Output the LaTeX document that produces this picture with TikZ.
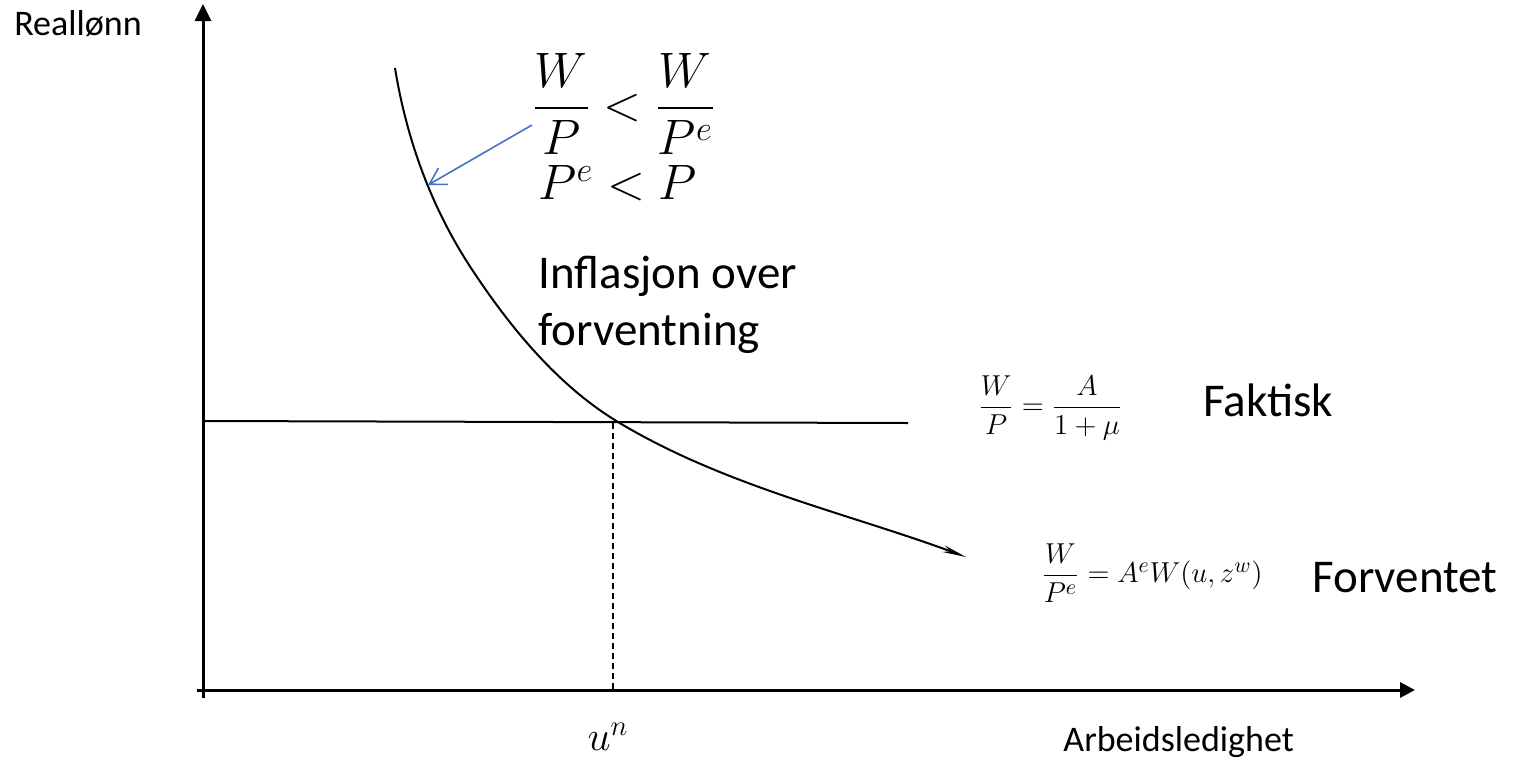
\documentclass[tikz,border=0pt]{standalone}
\usepackage{amsmath}
\usepackage{fontspec}
\setmainfont{Carlito}
\usetikzlibrary{arrows.meta}
\definecolor{arrowblue}{HTML}{4472C4}
\begin{document}
\begin{tikzpicture}[x=0.5pt,y=-0.5pt,
  axis/.style={line width=1.5pt},
  curve/.style={line width=1pt},
  small/.style={font=\fontsize{18}{22}\selectfont, inner sep=0pt},
  big/.style={font=\fontsize{23.5}{28.5}\selectfont, inner sep=0pt, align=left},
  fmath/.style={font=\fontsize{15.5}{18}\selectfont, inner sep=0pt}]
\useasboundingbox (0,0) rectangle (1529,760);
% axes
\coordinate (ybot) at (203,698);
\coordinate (ytop) at (203,4);
\coordinate (xstart) at (197,690);
\coordinate (xend) at (1415,690);
\draw[axis, -{Triangle[length=8.5pt,width=8pt]}] (ybot) -- (ytop);
\draw[axis, -{Triangle[length=7.5pt,width=7.5pt]}] (xstart) -- (xend);
% horizontal line
\coordinate (h1) at (203,421);
\coordinate (h2) at (908,423);
\draw[curve] (h1) -- (h2);
% dashed
\coordinate (e) at (613,423);
\coordinate (eb) at (613,690);
\draw[curve, dash pattern=on 3pt off 2pt] (e) -- (eb);
% curve
\coordinate (c0) at (395,68);
\coordinate (c1) at (475,274);
\coordinate (c2) at (618,422);
\coordinate (c3) at (966,557);
\draw[curve, -{Stealth[length=12pt,width=3.5pt]}]
  (c0) .. controls (407,142) and (433,212) .. (c1)
       .. controls (513,331) and (560,387) .. (c2)
       .. controls (724,486) and (850,514) .. (c3);
% blue arrow
\coordinate (bs) at (532,125);
\coordinate (bt) at (428,185);
\draw[arrowblue, line width=0.8pt, -{Straight Barb[length=8pt,width=9.5pt]}] (bs) -- (bt);
% labels
\node[small] (ylab) at (78,24) {Reallønn};
\node[small, anchor=west] (xlab) at (1063,742) {Arbeidsledighet};
\node[font=\fontsize{20}{24}\selectfont, inner sep=0pt] (un) at (608,737) {$u^n$};
\node[big, anchor=west] (ineq) at (532,104) {$\dfrac{W}{P}<\dfrac{W}{P^e}$};
\node[big, anchor=west] (pe) at (538,183) {$P^e<P$};
\node[big, anchor=west] (infl) at (538,305) {Inflasjon over\\forventning};
\node[fmath, anchor=west] (f1) at (978,408) {$\dfrac{W}{P}=\dfrac{A}{1+\mu}$};
\node[big, anchor=west] (fak) at (1203,400) {Faktisk};
\node[fmath, anchor=west] (f2) at (1041,573) {$\dfrac{W}{P^e}=A^eW(u,z^w)$};
\node[big, anchor=west] (forv) at (1312,578) {Forventet};
\end{tikzpicture}
\end{document}
